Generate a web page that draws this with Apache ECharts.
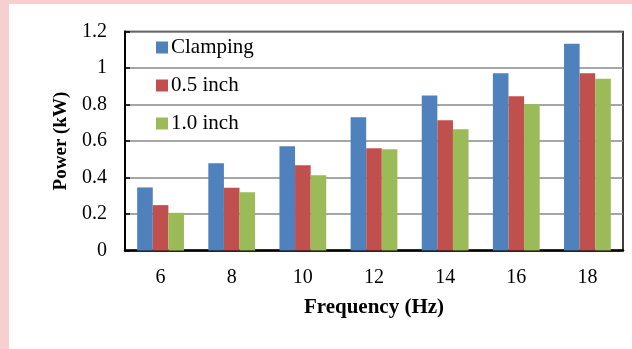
<!DOCTYPE html>
<html>
<head>
<meta charset="utf-8">
<script src="https://cdn.jsdelivr.net/npm/echarts@6/dist/echarts.min.js"></script>
<style>
  html, body { margin: 0; padding: 0; background: #ffffff; }
  #chart { width: 632px; height: 349px; }
</style>
</head>
<body>
<div id="chart"></div>
<script>
// Frequency categories (Hz)
const frequencies = ['6', '8', '10', '12', '14', '16', '18'];
// Power (kW) for each setup
const clamping = [0.346, 0.479, 0.572, 0.730, 0.850, 0.971, 1.133];
const halfInch = [0.249, 0.344, 0.468, 0.560, 0.714, 0.845, 0.972];
const oneInch  = [0.207, 0.319, 0.413, 0.555, 0.664, 0.801, 0.941];
const seriesNames = ['Clamping', '0.5 inch', '1.0 inch'];
const seriesColors = ['#4F81BD', '#C0504D', '#9BBB59'];

const FONT = 'Liberation Serif';
const chart = echarts.init(document.getElementById('chart'), null, { renderer: 'canvas' });

const seriesData = [clamping, halfInch, oneInch];

chart.setOption({
  animation: false,
  backgroundColor: '#ffffff',
  graphic: [
    { type: 'rect', left: 0, top: 0, shape: { width: 9, height: 349 }, style: { fill: '#f6cfcf' }, silent: true },
    { type: 'rect', left: 0, top: 0, shape: { width: 632, height: 4 }, style: { fill: '#f8cfcf' }, silent: true }
  ],
  grid: {
    left: 125, top: 31.5, right: 9, bottom: 98.4,
    show: true, borderColor: '#000', borderWidth: 1.5, backgroundColor: 'transparent'
  },
  legend: {
    orient: 'vertical',
    left: 156, top: 37,
    padding: 0,
    itemWidth: 12, itemHeight: 12, itemGap: 17,
    icon: 'rect',
    textStyle: { fontFamily: FONT, fontSize: 21, color: '#000', padding: [0, 0, 0, -2] },
    data: seriesNames
  },
  xAxis: {
    type: 'category',
    data: frequencies,
    name: 'Frequency (Hz)',
    nameLocation: 'middle',
    nameGap: 46,
    nameTextStyle: { fontFamily: FONT, fontSize: 21, fontWeight: 'bold', color: '#000' },
    axisLine: { lineStyle: { color: '#000', width: 2.5 } },
    axisTick: { show: false },
    axisLabel: { fontFamily: FONT, fontSize: 20, color: '#000', margin: 17 }
  },
  yAxis: {
    type: 'value',
    min: 0, max: 1.2, interval: 0.2,
    name: 'Power (kW)',
    nameLocation: 'middle',
    nameGap: 54,
    nameTextStyle: { fontFamily: FONT, fontSize: 19, fontWeight: 'bold', color: '#000' },
    axisLine: { show: true, lineStyle: { color: '#000', width: 2 } },
    axisTick: { show: true, inside: true, length: 5, lineStyle: { color: '#000', width: 1.5 } },
    splitLine: { lineStyle: { color: '#888888', width: 1.6 } },
    axisLabel: {
      fontFamily: FONT, fontSize: 20, color: '#000', margin: 18,
      formatter: v => String(Math.round(v * 10) / 10)
    }
  },
  series: seriesNames.map((name, i) => ({
    name,
    type: 'bar',
    data: seriesData[i],
    barWidth: 15.6,
    barGap: '0%',
    itemStyle: { color: seriesColors[i] }
  }))
});
</script>
</body>
</html>
